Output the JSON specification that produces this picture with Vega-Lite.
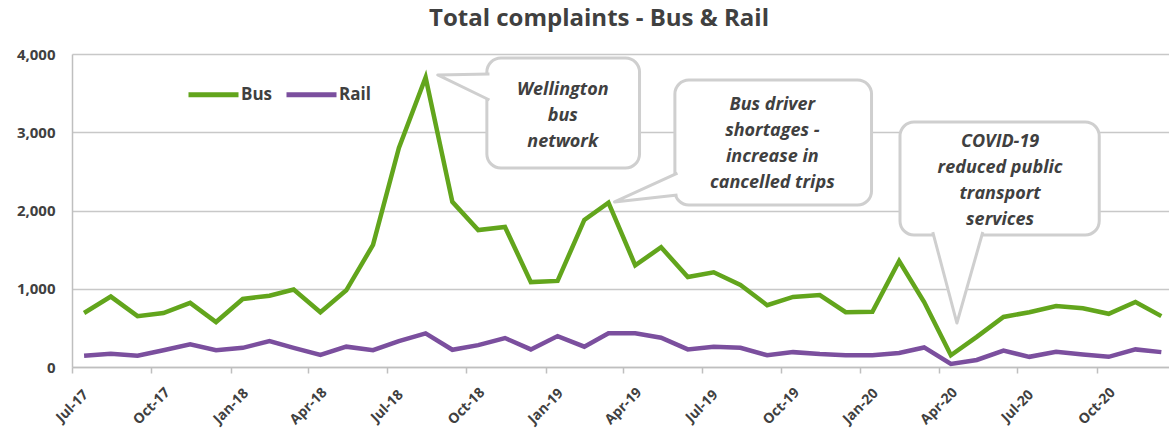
{
  "$schema": "https://vega.github.io/schema/vega-lite/v6.json",
  "autosize": {"type": "none"},
  "width": 1104,
  "height": 313,
  "padding": {"left": 72, "top": 54, "right": 0, "bottom": 61},
  "background": "white",
  "title": {
    "text": "Total complaints - Bus & Rail",
    "font": "Open Sans",
    "fontSize": 24,
    "fontWeight": "bold",
    "color": "#404040",
    "anchor": "middle",
    "frame": "group",
    "dx": -25,
    "offset": 16
  },
  "config": {"view": {"stroke": null}, "font": "Open Sans"},
  "datasets": {
    "monthly": [
      {"month": "2017-07-15", "Bus": 690, "Rail": 145},
      {"month": "2017-08-15", "Bus": 900, "Rail": 170},
      {"month": "2017-09-15", "Bus": 650, "Rail": 145},
      {"month": "2017-10-15", "Bus": 690, "Rail": 215},
      {"month": "2017-11-15", "Bus": 820, "Rail": 290},
      {"month": "2017-12-15", "Bus": 575, "Rail": 215},
      {"month": "2018-01-15", "Bus": 870, "Rail": 245},
      {"month": "2018-02-15", "Bus": 910, "Rail": 330},
      {"month": "2018-03-15", "Bus": 990, "Rail": 245},
      {"month": "2018-04-15", "Bus": 700, "Rail": 155},
      {"month": "2018-05-15", "Bus": 980, "Rail": 260},
      {"month": "2018-06-15", "Bus": 1560, "Rail": 215},
      {"month": "2018-07-15", "Bus": 2800, "Rail": 330},
      {"month": "2018-08-15", "Bus": 3700, "Rail": 430},
      {"month": "2018-09-15", "Bus": 2110, "Rail": 220},
      {"month": "2018-10-15", "Bus": 1750, "Rail": 280},
      {"month": "2018-11-15", "Bus": 1790, "Rail": 370},
      {"month": "2018-12-15", "Bus": 1085, "Rail": 225},
      {"month": "2019-01-15", "Bus": 1100, "Rail": 395},
      {"month": "2019-02-15", "Bus": 1880, "Rail": 260},
      {"month": "2019-03-15", "Bus": 2100, "Rail": 430},
      {"month": "2019-04-15", "Bus": 1300, "Rail": 430},
      {"month": "2019-05-15", "Bus": 1530, "Rail": 375},
      {"month": "2019-06-15", "Bus": 1150, "Rail": 225},
      {"month": "2019-07-15", "Bus": 1210, "Rail": 260},
      {"month": "2019-08-15", "Bus": 1050, "Rail": 245},
      {"month": "2019-09-15", "Bus": 790, "Rail": 150},
      {"month": "2019-10-15", "Bus": 895, "Rail": 190},
      {"month": "2019-11-15", "Bus": 920, "Rail": 165},
      {"month": "2019-12-15", "Bus": 700, "Rail": 150},
      {"month": "2020-01-15", "Bus": 705, "Rail": 150},
      {"month": "2020-02-15", "Bus": 1355, "Rail": 180},
      {"month": "2020-03-15", "Bus": 830, "Rail": 250},
      {"month": "2020-04-15", "Bus": 150, "Rail": 40},
      {"month": "2020-05-15", "Bus": 385, "Rail": 90},
      {"month": "2020-06-15", "Bus": 640, "Rail": 210},
      {"month": "2020-07-15", "Bus": 700, "Rail": 130},
      {"month": "2020-08-15", "Bus": 780, "Rail": 195},
      {"month": "2020-09-15", "Bus": 750, "Rail": 160},
      {"month": "2020-10-15", "Bus": 680, "Rail": 130},
      {"month": "2020-11-15", "Bus": 830, "Rail": 225},
      {"month": "2020-12-15", "Bus": 650, "Rail": 190}
    ],
    "boxes": [
      {"id": "network", "month": "2018-10-25", "month_end": "2019-04-20", "value": 3949, "value_end": 2543},
      {"id": "drivers", "month": "2019-05-31", "month_end": "2020-01-14", "value": 3668, "value_end": 2070},
      {"id": "covid", "month": "2020-02-16", "month_end": "2020-10-04", "value": 3131, "value_end": 1687}
    ],
    "pointers": [
      {"id": "network", "seq": 1, "month": "2018-10-28", "value": 3744},
      {"id": "network", "seq": 2, "month": "2018-08-29", "value": 3732},
      {"id": "network", "seq": 3, "month": "2018-10-28", "value": 3412},
      {"id": "drivers", "seq": 1, "month": "2019-06-03", "value": 2479},
      {"id": "drivers", "seq": 2, "month": "2019-03-22", "value": 2109},
      {"id": "drivers", "seq": 3, "month": "2019-06-03", "value": 2198},
      {"id": "covid", "seq": 1, "month": "2020-03-25", "value": 1725},
      {"id": "covid", "seq": 2, "month": "2020-04-22", "value": 562},
      {"id": "covid", "seq": 3, "month": "2020-05-22", "value": 1725}
    ],
    "notes": [
      {"id": "network", "month": "2019-01-21", "value": 3540, "note": "Wellington\nbus\nnetwork"},
      {"id": "drivers", "month": "2019-09-21", "value": 3350, "note": "Bus driver\nshortages -\nincrease in\ncancelled trips"},
      {"id": "covid", "month": "2020-06-11", "value": 2880, "note": "COVID-19\nreduced public\ntransport\nservices"}
    ]
  },
  "encoding": {
    "x": {
      "field": "month",
      "type": "temporal",
      "scale": {
        "type": "utc",
        "domain": [
          {"year": 2017, "month": 7, "date": 1, "utc": true},
          {"year": 2021, "month": 1, "date": 1, "utc": true}
        ]
      },
      "axis": {
        "title": null,
        "grid": false,
        "values": [
          {"year": 2017, "month": 7, "date": 1, "utc": true},
          {"year": 2017, "month": 10, "date": 1, "utc": true},
          {"year": 2018, "month": 1, "date": 1, "utc": true},
          {"year": 2018, "month": 4, "date": 1, "utc": true},
          {"year": 2018, "month": 7, "date": 1, "utc": true},
          {"year": 2018, "month": 10, "date": 1, "utc": true},
          {"year": 2019, "month": 1, "date": 1, "utc": true},
          {"year": 2019, "month": 4, "date": 1, "utc": true},
          {"year": 2019, "month": 7, "date": 1, "utc": true},
          {"year": 2019, "month": 10, "date": 1, "utc": true},
          {"year": 2020, "month": 1, "date": 1, "utc": true},
          {"year": 2020, "month": 4, "date": 1, "utc": true},
          {"year": 2020, "month": 7, "date": 1, "utc": true},
          {"year": 2020, "month": 10, "date": 1, "utc": true}
        ],
        "labelExpr": "utcFormat(datum.value, '%b-%y')",
        "labelAngle": -45,
        "labelAlign": "center",
        "labelBaseline": "middle",
        "labelFont": "Open Sans",
        "labelFontSize": 14,
        "labelFontWeight": "bold",
        "labelColor": "#404040",
        "labelPadding": 33,
        "labelOverlap": false,
        "labelFlush": false,
        "tickSize": 6,
        "tickWidth": 1.5,
        "tickColor": "#bfbfbf",
        "domainColor": "#bfbfbf",
        "domainWidth": 1.5
      }
    },
    "y": {
      "field": "value",
      "type": "quantitative",
      "scale": {"domain": [0, 4000], "nice": false},
      "axis": {
        "title": null,
        "values": [0, 1000, 2000, 3000, 4000],
        "labelExpr": "format(datum.value, ',.0f')",
        "grid": true,
        "gridColor": "#c8c8c8",
        "gridWidth": 1.5,
        "ticks": false,
        "domainColor": "#bfbfbf",
        "domainWidth": 1.5,
        "labelFont": "Open Sans",
        "labelFontSize": 15,
        "labelFontWeight": "bold",
        "labelColor": "#404040",
        "labelPadding": 17
      }
    }
  },
  "layer": [
    {
      "data": {"name": "monthly"},
      "transform": [{"fold": ["Bus", "Rail"], "as": ["mode", "value"]}],
      "mark": {"type": "line", "strokeWidth": 4.5, "strokeJoin": "miter"},
      "encoding": {
        "color": {
          "field": "mode",
          "type": "nominal",
          "scale": {"domain": ["Bus", "Rail"], "range": ["#62a51c", "#7b4f9e"]},
          "legend": {
            "title": null,
            "orient": "none",
            "legendX": 114,
            "legendY": 13,
            "direction": "horizontal",
            "symbolType": "stroke",
            "symbolStrokeWidth": 5,
            "symbolSize": 2500,
            "labelFont": "Open Sans",
            "labelFontSize": 17,
            "labelFontWeight": "bold",
            "labelColor": "#404040",
            "labelOffset": 0,
            "columnPadding": 3
          }
        }
      }
    },
    {
      "data": {"name": "boxes"},
      "mark": {"type": "rect", "fill": "white", "stroke": "#cfcfcf", "strokeWidth": 3, "cornerRadius": 14},
      "encoding": {
        "x2": {"field": "month_end"},
        "y2": {"field": "value_end"}
      }
    },
    {
      "data": {"name": "pointers"},
      "mark": {"type": "line", "fill": "white", "stroke": "#cfcfcf", "strokeWidth": 3, "strokeJoin": "round"},
      "encoding": {
        "detail": {"field": "id"},
        "order": {"field": "seq", "type": "quantitative"}
      }
    },
    {
      "data": {"name": "notes"},
      "mark": {
        "type": "text",
        "align": "center",
        "baseline": "middle",
        "lineBreak": "\n",
        "lineHeight": 26,
        "font": "Open Sans",
        "fontSize": 18,
        "fontStyle": "italic",
        "fontWeight": "bold",
        "color": "#404040"
      },
      "encoding": {"text": {"field": "note"}}
    }
  ]
}
